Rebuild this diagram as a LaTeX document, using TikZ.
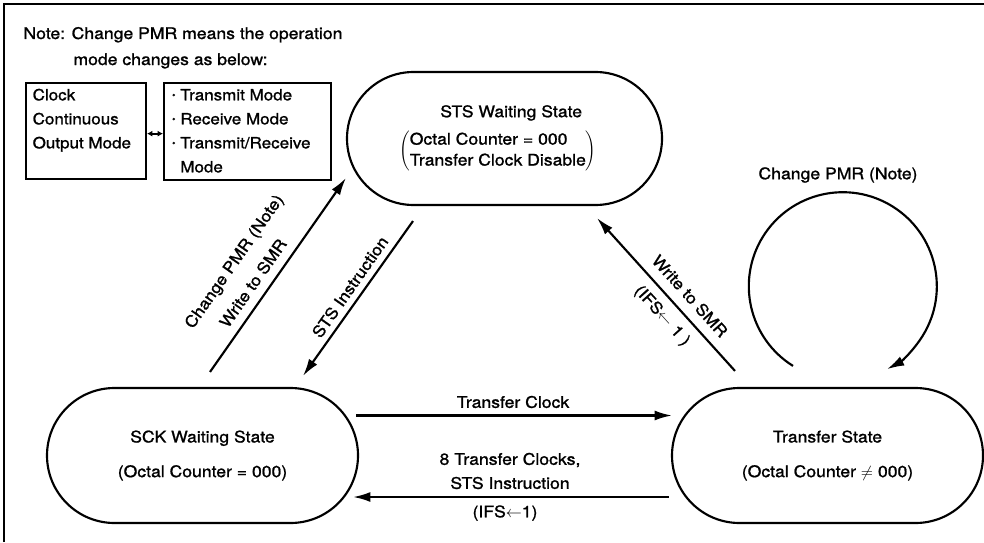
\documentclass[tikz,border=0pt]{standalone}
\usepackage{fontspec}
\setmainfont{TeX Gyre Heros}[FakeStretch=1.1,FakeBold=1.2]
\usetikzlibrary{arrows.meta,shapes.misc,calc}

\tikzset{every picture/.style={line width=0.75pt}}
\tikzset{
  statebox/.style={draw, rounded rectangle, line width=1.6pt, inner sep=0pt, align=center,
    font=\fontsize{12pt}{14pt}\selectfont},
  modebox/.style={draw, line width=1.5pt, anchor=north west, inner xsep=5pt,
    inner ysep=0pt, font=\fontsize{11.6pt}{18pt}\selectfont},
  lbl/.style={inner sep=0.75pt, font=\fontsize{12pt}{14pt}\selectfont},
  arr/.style={line width=1.6pt, -{Latex[length=13pt,width=7.5pt]}},
  dbl/.style={line width=1.4pt, {Latex[length=4pt,width=4.5pt]}-{Latex[length=4pt,width=4.5pt]}}
}
\newcommand{\itemdot}{\raisebox{0.25ex}{\scriptsize\textbullet}}

\begin{document}
\begin{tikzpicture}[x=0.75pt,y=0.75pt,yscale=-1,xscale=1]
\useasboundingbox (0,0) rectangle (984,542);

%Frame
\draw [line width=1.4pt]  (4,542) -- (4,4) -- (984,4) ;

% Text Node
\node [lbl, anchor=base west] (note1) at (22,39) {Note: Change PMR means the operation};
% Text Node
\node [lbl, anchor=base west] (note2) at (72,65) {mode changes as below:};

%Shape: Rectangle
\node [modebox] (clkbox) at (25,82)
  {\parbox[c][72pt][t]{80pt}{\rule{0pt}{13pt}Clock\\Continuous\\Output Mode}};
%Shape: Rectangle
\node [modebox, inner xsep=6pt] (modes) at (163,82)
  {\parbox[c][73pt][t]{113pt}{\rule{0pt}{13pt}\itemdot\ Transmit Mode\\\itemdot\ Receive Mode\\\itemdot\ Transmit/Receive\\\phantom{\itemdot\ }Mode}};
\draw [dbl]  ([yshift=2pt]clkbox.east) -- ([yshift=2pt]clkbox.east -| modes.west) ;

%Shape: Rounded Rect
\node [statebox, minimum width=236.25pt, minimum height=99.75pt] (stsw) at (504.5,138.5)
  {\hspace*{10pt}STS Waiting State\\[6pt]$\left(\def\arraystretch{1.12}\begin{tabular}{@{}l@{}}Octal Counter = 000\\Transfer Clock Disable\end{tabular}\right)$\hspace*{10pt}};
%Shape: Rounded Rect
\node [statebox, minimum width=233.25pt, minimum height=101.25pt] (sckw) at (202.5,455.5)
  {SCK Waiting State\\[12pt](Octal Counter = 000)};
%Shape: Rounded Rect
\node [statebox, minimum width=233.25pt, minimum height=101.25pt] (xfer) at (827.5,455.5)
  {Transfer State\\[12pt](Octal Counter $\neq$ 000)};

%Straight Lines
\draw [arr]  ($(sckw.north)+(7.5,-15)$) -- ($(stsw.west)+(0,39.5)$) ;
\draw [arr]  ($(stsw.south)+(-91.5,15)$) -- ($(sckw.north)+(100.5,-11)$) ;
\draw [arr]  ($(xfer.north)+(-92.5,-16)$) -- ($(stsw.south)+(92.5,12)$) ;
\draw [arr]  ($(sckw.east)+(-3,-40)$) -- ($(xfer.west)+(1,-40)$) ;
\draw [arr]  ($(xfer.west)+(-2,41.5)$) -- ($(sckw.east)+(-6,41.5)$) ;
%Arc
\draw [arr]  ($(xfer.north)+(-34.5,-21)$) arc [start angle=122, end angle=422, radius=94] ;

% Text Node
\node [lbl, rotate=55] (pmrlbl) at (235,262) {Change PMR (Note)};
% Text Node
\node [lbl, rotate=55] (smrlbl) at (253,283) {Write to SMR};
% Text Node
\node [lbl, rotate=55] (stslbl) at (350,287) {STS Instruction};
% Text Node
\node [lbl, rotate=-48] (wrlbl) at (690,296) {Write to SMR};
% Text Node
\node [lbl, rotate=-48] (ifslbl) at (662,316) {(IFS$\leftarrow$ 1 )};
% Text Node
\node [lbl] (looplbl) at (838,175) {Change PMR (Note)};
% Text Node
\node [lbl] (clklbl) at (513,402) {Transfer Clock};
% Text Node
\node [lbl] (cntlbl) at (510,460) {8 Transfer Clocks,};
% Text Node
\node [lbl] (instlbl) at (510,483) {STS Instruction};
% Text Node
\node [lbl] (ifsback) at (505,513) {(IFS$\leftarrow$1)};

\end{tikzpicture}
\end{document}
